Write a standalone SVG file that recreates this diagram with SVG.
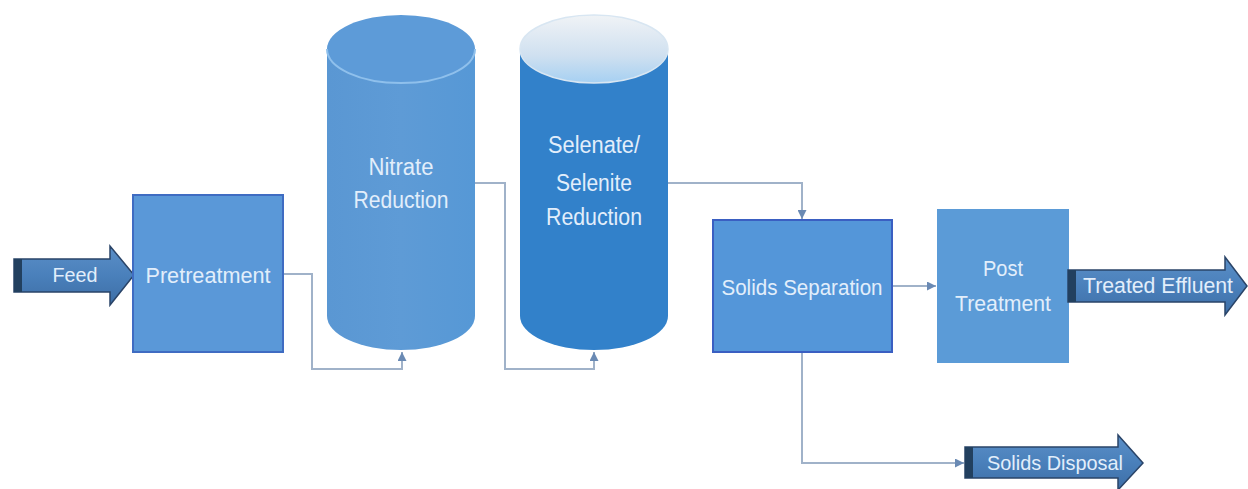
<svg xmlns="http://www.w3.org/2000/svg" width="1248" height="489" viewBox="0 0 1248 489">
<style>
.lbl{font-family:"Liberation Sans",Arial,sans-serif;fill:#e2eefb;text-anchor:middle;}
.conn{fill:none;stroke:#a0b2c9;stroke-width:2;}
.arrowbody{fill:url(#arrGrad);stroke:#2a4468;stroke-width:1.5;}
.band{fill:#22405f;}
</style>
<defs>
<linearGradient id="arrGrad" x1="0" y1="0" x2="0" y2="1">
<stop offset="0" stop-color="#5b8fc7"/>
<stop offset="0.5" stop-color="#4a80bb"/>
<stop offset="1" stop-color="#3d6ea6"/>
</linearGradient>
<linearGradient id="selTop" x1="0" y1="0" x2="0" y2="1">
<stop offset="0" stop-color="#f0f3f6"/>
<stop offset="0.6" stop-color="#cfe0f0"/>
<stop offset="1" stop-color="#a6d0f2"/>
</linearGradient>
<linearGradient id="nitBody" x1="0" y1="0" x2="1" y2="0">
<stop offset="0" stop-color="#5a97d3"/>
<stop offset="0.5" stop-color="#5e9bd6"/>
<stop offset="1" stop-color="#5698d6"/>
</linearGradient>
<marker id="ah" viewBox="0 0 10 10" refX="10" refY="5" markerWidth="9" markerHeight="9" markerUnits="userSpaceOnUse" orient="auto">
<path d="M0,0 L10,5 L0,10 z" fill="#6a8ab4"/>
</marker>
</defs>

<g id="connectors">
<polyline class="conn" points="283,274 312,274 312,369 402,369 402,352" marker-end="url(#ah)"/>
<polyline class="conn" points="475,183 505,183 505,369 594,369 594,352" marker-end="url(#ah)"/>
<polyline class="conn" points="668,183 802,183 802,219" marker-end="url(#ah)"/>
<polyline class="conn" points="892,286 936,286" marker-end="url(#ah)"/>
<polyline class="conn" points="802,352 802,463 964,463" marker-end="url(#ah)"/>
</g>

<g id="feed">
<polygon class="arrowbody" points="14,259 110,259 110,246 134,275 110,305 110,292 14,292"/>
<rect class="band" x="14" y="259" width="8" height="33"/>
<text class="lbl" x="75" y="282" font-size="21" textLength="45" lengthAdjust="spacingAndGlyphs">Feed</text>
</g>

<g id="pretreatment">
<rect x="133" y="195" width="150" height="157" fill="#5a98d8" stroke="#3f6cc2" stroke-width="2"/>
<text class="lbl" x="208" y="283" font-size="22" textLength="125" lengthAdjust="spacingAndGlyphs">Pretreatment</text>
</g>

<g id="nitrate">
<path d="M327,49 L327,316 A74,34 0 0 0 475,316 L475,49 Z" fill="url(#nitBody)"/>
<ellipse cx="401" cy="49" rx="74" ry="34" fill="#5d9bd8"/>
<path d="M327,49 A74,34 0 0 0 475,49" fill="none" stroke="#8fc0ec" stroke-width="2"/>
<text class="lbl" x="401" y="175" font-size="23" textLength="65" lengthAdjust="spacingAndGlyphs">Nitrate</text>
<text class="lbl" x="401" y="208" font-size="23" textLength="95" lengthAdjust="spacingAndGlyphs">Reduction</text>
</g>

<g id="selenate">
<path d="M520,49 L520,316 A74,34 0 0 0 668,316 L668,49 Z" fill="#3281ca"/>
<ellipse cx="594" cy="49" rx="74" ry="34" fill="url(#selTop)" stroke="#d8e6f2" stroke-width="1.5"/>
<text class="lbl" x="594" y="153" font-size="23" textLength="92" lengthAdjust="spacingAndGlyphs">Selenate/</text>
<text class="lbl" x="594" y="191" font-size="23" textLength="76" lengthAdjust="spacingAndGlyphs">Selenite</text>
<text class="lbl" x="594" y="225" font-size="23" textLength="96" lengthAdjust="spacingAndGlyphs">Reduction</text>
</g>

<g id="solids-separation">
<rect x="713" y="220" width="179" height="132" fill="#5496d9" stroke="#3a5fc2" stroke-width="2"/>
<text class="lbl" x="802" y="295" font-size="22" textLength="161" lengthAdjust="spacingAndGlyphs">Solids Separation</text>
</g>

<g id="post-treatment">
<rect x="937" y="209" width="132" height="154" fill="#5b9bd7"/>
<text class="lbl" x="1003" y="276" font-size="22" textLength="40" lengthAdjust="spacingAndGlyphs">Post</text>
<text class="lbl" x="1003" y="311" font-size="22" textLength="96" lengthAdjust="spacingAndGlyphs">Treatment</text>
</g>

<g id="treated-effluent">
<polygon class="arrowbody" points="1068,270 1225,270 1225,257 1247,286 1225,315 1225,302 1068,302"/>
<rect class="band" x="1068" y="270" width="8" height="32"/>
<text class="lbl" x="1158" y="293" font-size="22" textLength="150" lengthAdjust="spacingAndGlyphs">Treated Effluent</text>
</g>

<g id="solids-disposal">
<polygon class="arrowbody" points="965,447 1118,447 1118,435 1143,463 1118,490 1118,478 965,478"/>
<rect class="band" x="965" y="447" width="8" height="31"/>
<text class="lbl" x="1055" y="470" font-size="21" textLength="136" lengthAdjust="spacingAndGlyphs">Solids Disposal</text>
</g>
</svg>
